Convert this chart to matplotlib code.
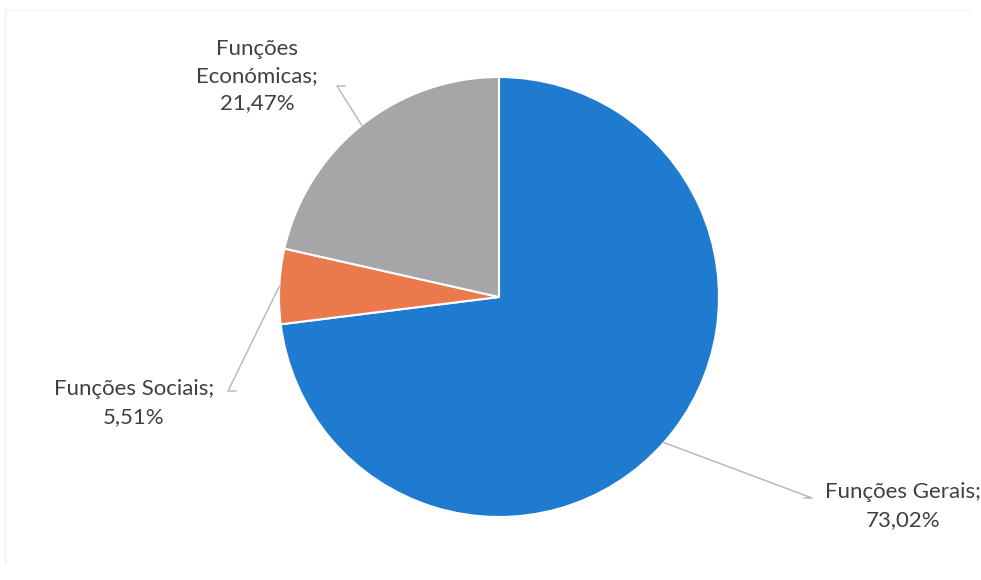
import matplotlib.pyplot as plt
import numpy as np

# data
labels = ['Funções Gerais', 'Funções Sociais', 'Funções\nEconómicas']
values = [73.02, 5.51, 21.47]
colors = ['#1F7BD0', '#EA7A4B', '#A6A6A8']

W, H = 981, 580
cx, cy, R = 499, 297, 220     # pie centre / radius in pixels

fig = plt.figure(figsize=(W / 100, H / 100), dpi=100)
ax = fig.add_axes([0, 0, 1, 1])

wedges, _ = ax.pie(values, colors=colors, startangle=90, counterclock=False,
                   radius=1, wedgeprops=dict(edgecolor='white', linewidth=1.5))

# pie() resets limits, so set them afterwards
ax.set_xlim(-cx / R, (W - cx) / R)
ax.set_ylim((cy - H) / R, cy / R)
ax.set_aspect('equal')
ax.axis('off')

def px(x, y):
    return (x - cx) / R, (cy - y) / R

# label text centre, leader end (near text), side of short horizontal tick
label_pos = [((903, 506), (812, 498), 1), ((134, 403), (228, 391), -1), ((257, 76), (337, 86), -1)]

for w, lab, v, (tpos, lend, side) in zip(wedges, labels, values, label_pos):
    ang = np.deg2rad((w.theta1 + w.theta2) / 2)
    x0, y0 = np.cos(ang), np.sin(ang)
    x1, y1 = px(*lend)
    ax.plot([x0, x1, x1 - side * 8 / R], [y0, y1, y1], color='#B5B5B5', lw=1)
    txt = '%s;\n%s%%' % (lab, ('%.2f' % v).replace('.', ','))
    tx, ty = px(*tpos)
    ax.text(tx, ty, txt, ha='center', va='center', fontsize=16, family='Lato',
            color='#404040', linespacing=1.45)

# faint chart border (left and top only visible in the scan)
fig.add_artist(plt.Line2D([5 / W, 5 / W], [0.03, 1 - 10 / H], transform=fig.transFigure,
                          color='#EEEEEE', lw=1))
fig.add_artist(plt.Line2D([5 / W, 0.99], [1 - 10 / H, 1 - 10 / H], transform=fig.transFigure,
                          color='#F4F4F4', lw=1))

fig.savefig('out.png', dpi=100)
